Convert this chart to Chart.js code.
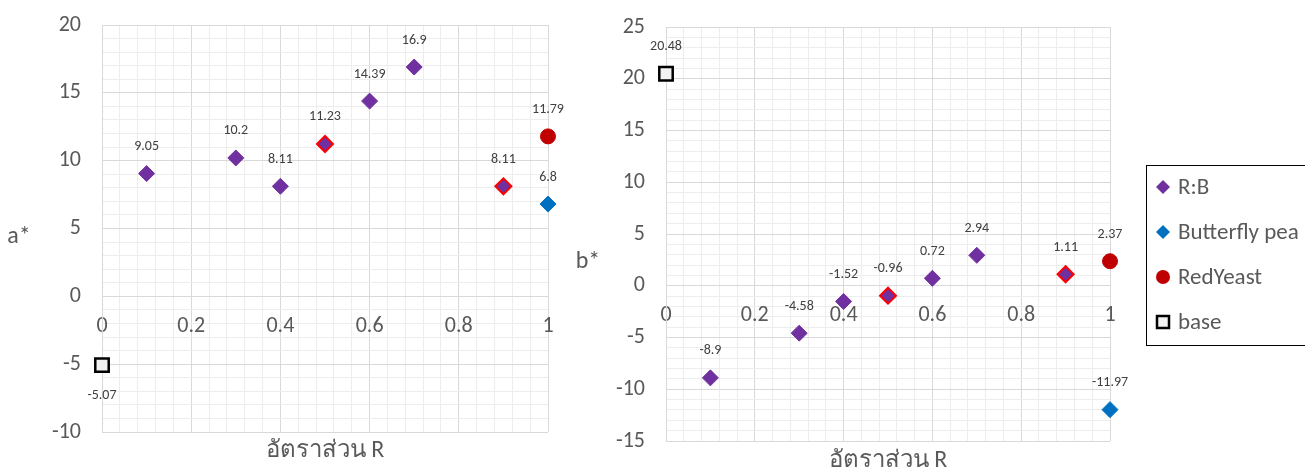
<!DOCTYPE html>
<html lang="th">
<head>
<meta charset="UTF-8">
<title>a* / b* ตามอัตราส่วน R</title>
<script src="https://cdn.jsdelivr.net/npm/chart.js"></script>
<style>
  body { margin: 0; background: #fff; }
  .wrap { position: relative; width: 1305px; height: 474px; overflow: hidden; }
  #chartA { position: absolute; left: 0; top: 0; }
  #chartB { position: absolute; left: 575px; top: 0; }
</style>
</head>
<body>
<div class="wrap">
  <canvas id="chartA" width="575" height="474"></canvas>
  <canvas id="chartB" width="730" height="474"></canvas>
</div>
<script>
// ---- data ----
const seriesNames = ['R:B', 'Butterfly pea', 'RedYeast', 'base'];

const rbRatio = [0.1, 0.3, 0.4, 0.5, 0.6, 0.7, 0.9];
const rbA = [9.05, 10.2, 8.11, 11.23, 14.39, 16.9, 8.11];
const rbB = [-8.9, -4.58, -1.52, -0.96, 0.72, 2.94, 1.11];
// R:B points drawn with a red edge
const rbHighlight = [0.5, 0.9];

const butterflyRatio = [1];
const butterflyA = [6.8];
const butterflyB = [-11.97];

const redYeastRatio = [1];
const redYeastA = [11.79];
const redYeastB = [2.37];

const baseRatio = [0];
const baseA = [-5.07];
const baseB = [20.48];

const xTicks = [0, 0.2, 0.4, 0.6, 0.8, 1];
const aTicks = [-10, -5, 0, 5, 10, 15, 20];
const bTicks = [-15, -10, -5, 0, 5, 10, 15, 20, 25];

const FONT = "Carlito, Calibri, Lato, 'Noto Sans', sans-serif";
const GREY = '#595959';
const MAJOR = '#D9D9D9';
const MINOR = '#EDEDED';

function findTick(list, v) {
  return list.find(t => Math.abs(t - v) < 1e-6);
}

function pts(xs, ys) {
  return xs.map((x, i) => ({ x: x, y: ys[i] }));
}

function makeDatasets(rbY, bfY, ryY, baseY) {
  return [
    {
      label: seriesNames[0],
      data: pts(rbRatio, rbY),
      clip: false,
      pointStyle: 'rectRot',
      pointRadius: 8,
      pointBackgroundColor: '#7030A0',
      pointBorderColor: c => findTick(rbHighlight, c.raw.x) !== undefined ? '#FF0000' : '#7030A0',
      pointBorderWidth: c => findTick(rbHighlight, c.raw.x) !== undefined ? 2 : 1
    },
    {
      label: seriesNames[1],
      data: pts(butterflyRatio, bfY),
      clip: false,
      pointStyle: 'rectRot',
      pointRadius: 8,
      pointBackgroundColor: '#0070C0',
      pointBorderColor: '#0070C0',
      pointBorderWidth: 1
    },
    {
      label: seriesNames[2],
      data: pts(redYeastRatio, ryY),
      clip: false,
      pointStyle: 'circle',
      pointRadius: 7.5,
      pointBackgroundColor: '#C00000',
      pointBorderColor: '#C00000',
      pointBorderWidth: 1
    },
    {
      label: seriesNames[3],
      data: pts(baseRatio, baseY),
      clip: false,
      pointStyle: 'rect',
      pointRadius: 9.5,
      pointBackgroundColor: '#F2F2F2',
      pointBorderColor: '#000000',
      pointBorderWidth: 2.5
    }
  ];
}

// value labels above (or below) each point
const pointLabels = {
  id: 'pointLabels',
  afterDatasetsDraw(chart, args, opts) {
    const ctx = chart.ctx;
    ctx.save();
    ctx.font = '14px ' + FONT;
    ctx.fillStyle = '#404040';
    ctx.textAlign = 'center';
    ctx.textBaseline = 'middle';
    chart.data.datasets.forEach((ds, di) => {
      const meta = chart.getDatasetMeta(di);
      meta.data.forEach((pt, i) => {
        const below = (opts.below || []).includes(di);
        ctx.fillText(String(ds.data[i].y), pt.x, pt.y + (below ? 30 : -27));
      });
    });
    ctx.restore();
  }
};

// horizontal axis titles like in Excel
const axisTitles = {
  id: 'axisTitles',
  afterDraw(chart, args, opts) {
    const { ctx, chartArea } = chart;
    ctx.save();
    ctx.fillStyle = GREY;
    ctx.font = '24px ' + FONT;
    ctx.textAlign = 'center';
    ctx.textBaseline = 'middle';
    ctx.fillText(opts.xText, (chartArea.left + chartArea.right) / 2, opts.xTitleY);
    ctx.fillText(opts.yText, opts.yTitleX, opts.yTitleY);
    ctx.restore();
  }
};

// boxed legend on the right, cut by the edge
const boxLegend = {
  id: 'boxLegend',
  afterDraw(chart, args, opts) {
    if (!opts.show) return;
    const ctx = chart.ctx;
    ctx.save();
    ctx.strokeStyle = '#000';
    ctx.lineWidth = 1;
    ctx.strokeRect(opts.left + 0.5, opts.top + 0.5, 220, opts.height);
    ctx.font = '23px ' + FONT;
    ctx.textBaseline = 'middle';
    chart.data.datasets.forEach((ds, i) => {
      const y = opts.top + 22 + i * 45;
      const x = opts.left + 17;
      ctx.fillStyle = ds.pointBackgroundColor;
      ctx.strokeStyle = typeof ds.pointBorderColor === 'string' ? ds.pointBorderColor : ds.pointBackgroundColor;
      ctx.beginPath();
      if (ds.pointStyle === 'rectRot') {
        ctx.moveTo(x, y - 7); ctx.lineTo(x + 7, y); ctx.lineTo(x, y + 7); ctx.lineTo(x - 7, y);
        ctx.closePath(); ctx.fill();
      } else if (ds.pointStyle === 'circle') {
        ctx.arc(x, y, 7, 0, Math.PI * 2); ctx.fill();
      } else {
        ctx.lineWidth = 2.5;
        ctx.rect(x - 6, y - 6, 12, 12); ctx.fill(); ctx.stroke();
      }
      ctx.fillStyle = GREY;
      ctx.fillText(ds.label, opts.left + 32, y + 1);
    });
    ctx.restore();
  }
};

function makeChart(id, cfg) {
  return new Chart(document.getElementById(id), {
    type: 'scatter',
    data: { datasets: cfg.datasets },
    options: {
      responsive: false,
      animation: false,
      layout: { padding: cfg.padding },
      scales: {
        x: {
          type: 'linear',
          position: { y: 0 },
          min: xTicks[0],
          max: xTicks[xTicks.length - 1],
          border: { color: MAJOR },
          grid: {
            drawTicks: false,
            color: c => findTick(xTicks, c.tick.value) !== undefined ? MAJOR : MINOR
          },
          ticks: {
            stepSize: 0.04,
            autoSkip: false,
            maxRotation: 0,
            minRotation: 0,
            padding: 17,
            color: GREY,
            font: { family: FONT, size: 22 },
            callback: v => {
              const t = findTick(xTicks, v);
              return t !== undefined ? String(t) : '';
            }
          }
        },
        y: {
          type: 'linear',
          position: 'left',
          min: cfg.yTicks[0],
          max: cfg.yTicks[cfg.yTicks.length - 1],
          afterFit: s => { s.width = cfg.yWidth; },
          border: { color: MAJOR },
          grid: {
            drawTicks: true,
            tickLength: 18,
            tickColor: 'rgba(0,0,0,0)',
            color: c => findTick(cfg.yTicks, c.tick.value) !== undefined ? MAJOR : MINOR
          },
          ticks: {
            stepSize: 1,
            autoSkip: false,
            padding: 3,
            color: GREY,
            font: { family: FONT, size: 22 },
            callback: v => {
              const t = findTick(cfg.yTicks, v);
              return t !== undefined ? String(t) : '';
            }
          }
        }
      },
      plugins: {
        legend: { display: false },
        tooltip: { enabled: false },
        pointLabels: { below: cfg.labelsBelow },
        axisTitles: cfg.titles,
        boxLegend: cfg.legend
      }
    },
    plugins: [pointLabels, axisTitles, boxLegend]
  });
}

makeChart('chartA', {
  datasets: makeDatasets(rbA, butterflyA, redYeastA, baseA),
  yTicks: aTicks,
  yWidth: 102,
  padding: { top: 25, bottom: 42, left: 0, right: 27 },
  labelsBelow: [3],
  titles: { xText: 'อัตราส่วน R', xTitleY: 451, yText: 'a*', yTitleX: 19, yTitleY: 237 },
  legend: { show: false }
});

makeChart('chartB', {
  datasets: makeDatasets(rbB, butterflyB, redYeastB, baseB),
  yTicks: bTicks,
  yWidth: 91,
  padding: { top: 27, bottom: 33, left: 0, right: 195 },
  labelsBelow: [],
  titles: { xText: 'อัตราส่วน R', xTitleY: 461, yText: 'b*', yTitleX: 13, yTitleY: 262 },
  legend: { show: true, left: 571, top: 165, height: 180 }
});
</script>
</body>
</html>
